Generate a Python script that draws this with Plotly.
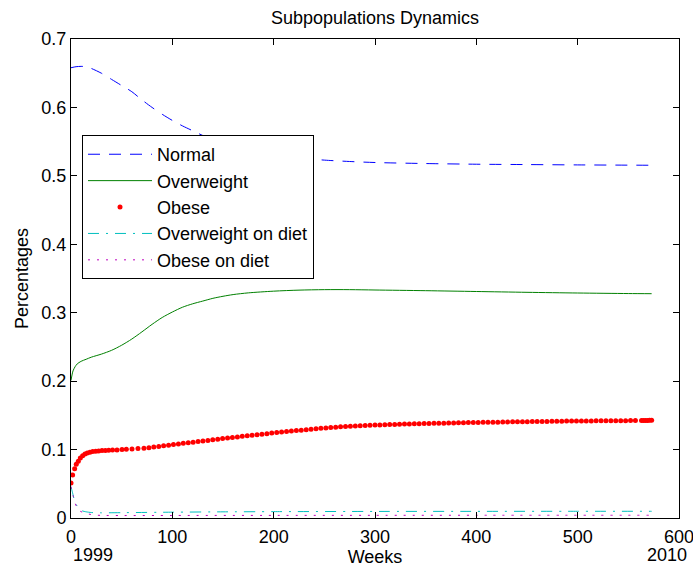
import plotly.graph_objects as go

# Time grid (weeks) and model output for each subpopulation
weeks_normal = [0, 5, 10, 15, 20, 30, 40, 50, 60, 70, 80, 90, 100, 110, 120, 130, 140,
                150, 160, 175, 190, 210, 230, 250, 275, 300, 350, 400, 450, 500, 573]
normal = [0.658, 0.6595, 0.660, 0.6595, 0.657, 0.650, 0.641, 0.632, 0.623, 0.611, 0.600,
          0.590, 0.581, 0.573, 0.566, 0.559, 0.553, 0.548, 0.543, 0.538, 0.533, 0.529,
          0.5255, 0.523, 0.521, 0.5195, 0.518, 0.517, 0.5165, 0.516, 0.5155]

weeks_over = [0, 1, 2, 4, 6, 10, 15, 20, 30, 40, 50, 60, 70, 80, 90, 100, 110, 120, 130,
              140, 150, 160, 175, 200, 225, 250, 275, 300, 350, 400, 450, 500, 550, 573]
overweight = [0.201, 0.209, 0.215, 0.221, 0.225, 0.229, 0.232, 0.235, 0.2395, 0.245,
              0.2525, 0.2615, 0.272, 0.283, 0.293, 0.301, 0.308, 0.313, 0.317, 0.321,
              0.324, 0.3265, 0.329, 0.3315, 0.333, 0.3337, 0.3337, 0.3332, 0.3322, 0.3310,
              0.3298, 0.3288, 0.3280, 0.3278]

weeks_obese = [
    0, 1.6, 3.6, 5.2, 7.2, 9.2, 11.5, 13.8, 16.1, 18.7, 21.4, 24.4, 27.3, 30.6, 33.9,
    37.2, 41.0, 45.4, 50.3, 54.6, 60.2, 66.1,
    72.0, 76.9, 81.7, 86.6, 91.4, 96.3, 101.1, 106.0, 110.8, 115.7, 120.5, 125.4, 130.2,
    135.1, 139.9, 144.8, 149.6, 154.5, 159.3, 164.2, 169.0, 173.9, 178.7, 183.6, 188.4,
    193.3, 198.1, 203.0, 207.8, 212.7, 217.5, 222.4, 227.2, 232.1, 236.9, 241.8, 246.6,
    251.5, 256.3, 261.2, 266.0, 270.9, 275.7, 280.6, 285.4, 290.3, 295.1, 300.0, 304.8,
    309.7, 314.5, 319.4, 324.2, 329.1, 333.9, 338.8, 343.6, 348.5, 353.3, 358.2, 363.0,
    367.9, 372.7, 377.6, 382.4, 387.3, 392.1, 397.0, 401.8, 406.7, 411.5, 416.4, 421.2,
    426.1, 430.9, 435.8, 440.6, 445.5, 450.3, 455.2, 460.0, 464.9, 469.7, 474.6, 479.4,
    484.3, 489.1, 494.0, 498.8, 503.7, 508.5, 513.4, 518.2, 523.1, 527.9, 532.8, 537.6,
    542.5, 547.3, 552.2, 557.0,
    563, 565, 567, 569, 571, 573]
obese = [
    0.051, 0.063, 0.072, 0.0785, 0.083, 0.0877, 0.091, 0.0936, 0.095, 0.096, 0.097,
    0.0975, 0.098, 0.0985, 0.0988, 0.099, 0.0992, 0.0995, 0.1000, 0.1003, 0.1010, 0.1015,
    0.1020, 0.1028, 0.1037, 0.1046, 0.1055, 0.1064, 0.1073, 0.1083, 0.1091, 0.1100,
    0.1108, 0.1117, 0.1126, 0.1134, 0.1143, 0.1151, 0.1160, 0.1168, 0.1177, 0.1185,
    0.1193, 0.1201, 0.1209, 0.1217, 0.1225, 0.1233, 0.1241, 0.1248, 0.1256, 0.1263,
    0.1270, 0.1277, 0.1284, 0.1291, 0.1297, 0.1304, 0.1310, 0.1316, 0.1322, 0.1327,
    0.1332, 0.1337, 0.1341, 0.1345, 0.1349, 0.1352, 0.1355, 0.1358, 0.1360, 0.1363,
    0.1365, 0.1368, 0.1370, 0.1372, 0.1374, 0.1376, 0.1378, 0.1380, 0.1381, 0.1383,
    0.1385, 0.1386, 0.1388, 0.1389, 0.1391, 0.1392, 0.1394, 0.1395, 0.1396, 0.1398,
    0.1399, 0.1400, 0.1401, 0.1403, 0.1404, 0.1405, 0.1406, 0.1407, 0.1408, 0.1409,
    0.1410, 0.1411, 0.1412, 0.1413, 0.1414, 0.1415, 0.1416, 0.1416, 0.1417, 0.1418,
    0.1419, 0.1419, 0.1420, 0.1421, 0.1421, 0.1422, 0.1422, 0.1423, 0.1423, 0.1424,
    0.1424,
    0.1425, 0.1425, 0.1426, 0.1426, 0.1427, 0.1427]

weeks_over_diet = [0, 1, 2, 3, 5, 8, 11, 15, 20, 30, 50, 100, 150, 200, 300, 400, 500, 573]
overweight_diet = [0.045, 0.040, 0.034, 0.028, 0.020, 0.0135, 0.0105, 0.009, 0.008, 0.0076,
                   0.0078, 0.0085, 0.009, 0.0093, 0.0096, 0.0097, 0.0098, 0.0098]

weeks_obese_diet = [0, 1, 2, 4, 6, 9, 14, 22, 30, 50, 100, 200, 300, 400, 573]
obese_diet = [0.046, 0.040, 0.033, 0.022, 0.015, 0.010, 0.007, 0.0045, 0.0038, 0.0036,
              0.0037, 0.0038, 0.0039, 0.0040, 0.0040]

x_ticks = [0, 100, 200, 300, 400, 500, 600]
y_ticks = [0, 0.1, 0.2, 0.3, 0.4, 0.5, 0.6, 0.7]
y_tick_text = ["0", "0.1", "0.2", "0.3", "0.4", "0.5", "0.6", "0.7"]

FONT = "Liberation Sans, Arial, Helvetica, sans-serif"

fig = go.Figure()
fig.add_trace(go.Scatter(x=weeks_normal, y=normal, mode="lines", name="Normal",
                         line=dict(color="#0000FF", width=1, dash="12px,9px",
                                   shape="spline", smoothing=0.8)))
fig.add_trace(go.Scatter(x=weeks_over, y=overweight, mode="lines", name="Overweight",
                         line=dict(color="#008000", width=1, shape="spline", smoothing=0.8)))
fig.add_trace(go.Scatter(x=weeks_obese, y=obese, mode="markers", name="Obese",
                         marker=dict(color="#FF0000", size=5, line=dict(width=0))))
fig.add_trace(go.Scatter(x=weeks_over_diet, y=overweight_diet, mode="lines",
                         name="Overweight on diet",
                         line=dict(color="#00BFBF", width=1, dash="11px,7px,2px,7px",
                                   shape="spline", smoothing=0.6)))
fig.add_trace(go.Scatter(x=weeks_obese_diet, y=obese_diet, mode="lines",
                         name="Obese on diet",
                         line=dict(color="#BF00BF", width=1, dash="2px,7px",
                                   shape="spline", smoothing=0.6)))

# Calendar years at both ends of the simulated period
fig.add_annotation(x=0, y=-0.077, xref="x", yref="paper", text="1999", showarrow=False,
                   xanchor="left", yanchor="middle", font=dict(size=18, color="black"))
fig.add_annotation(x=566, y=-0.077, xref="x", yref="paper", text="2010", showarrow=False,
                   xanchor="left", yanchor="middle", font=dict(size=18, color="black"))

fig.update_layout(
    width=693, height=568,
    margin=dict(l=71, r=14, t=39, b=50),
    paper_bgcolor="white", plot_bgcolor="white",
    font=dict(family=FONT, size=18, color="black"),
    title=dict(text="Subpopulations Dynamics", x=0.5, xref="paper", xanchor="center",
               y=1 - 18 / 568, yref="container", yanchor="middle",
               font=dict(size=18, color="black")),
    showlegend=True,
    legend=dict(x=0.0181, y=0.7995, xanchor="left", yanchor="top",
                bordercolor="black", borderwidth=1, bgcolor="white",
                font=dict(size=18), itemwidth=64, tracegroupgap=0,
                traceorder="normal"),
)
fig.update_xaxes(range=[0, 600], tickvals=x_ticks, ticks="inside", ticklen=6,
                 tickcolor="black", showline=True, linecolor="black", linewidth=1,
                 mirror="allticks", showgrid=False, zeroline=False, automargin=False,
                 ticklabeloverflow="allow", ticklabelstandoff=2,
                 title=dict(text="Weeks", standoff=0, font=dict(size=18)))
fig.update_yaxes(range=[0, 0.7], tickvals=y_ticks, ticktext=y_tick_text, ticks="inside",
                 ticklen=6, tickcolor="black", showline=True, linecolor="black",
                 linewidth=1, mirror="allticks", showgrid=False, zeroline=False,
                 automargin=False,
                 title=dict(text="Percentages", standoff=8, font=dict(size=18)))

fig.write_html("out.html")
